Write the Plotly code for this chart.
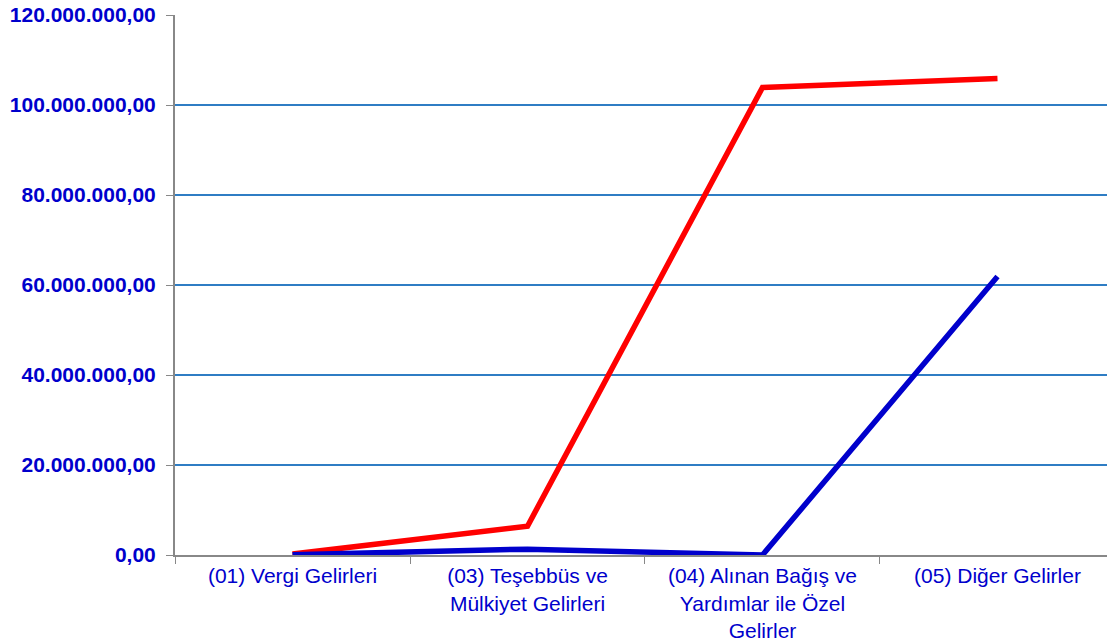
import plotly.graph_objects as go

categories = [
    "(01) Vergi Gelirleri",
    "(03) Teşebbüs ve<br>Mülkiyet Gelirleri",
    "(04) Alınan Bağış ve<br>Yardımlar ile Özel<br>Gelirler",
    "(05) Diğer Gelirler",
]
red_values = [200000, 6400000, 103900000, 105900000]
blue_values = [50000, 1300000, 0, 61900000]
y_ticks = [0, 20000000, 40000000, 60000000, 80000000, 100000000, 120000000]

fig = go.Figure()
fig.add_trace(go.Scatter(x=categories, y=red_values, mode="lines",
                         line=dict(color="#FF0000", width=5.5), name="A"))
fig.add_trace(go.Scatter(x=categories, y=blue_values, mode="lines",
                         line=dict(color="#0000CC", width=5.5), name="B"))

fig.update_layout(
    width=1107, height=642,
    margin=dict(l=175, r=0, t=15, b=87),
    plot_bgcolor="white", paper_bgcolor="white",
    showlegend=False,
    separators=",.",
    font=dict(family="Liberation Sans, Arial, sans-serif"),
)
fig.update_xaxes(
    type="category",
    range=[-0.5, 3.466],
    tickson="boundaries",
    ticks="outside", ticklen=7, tickcolor="#888888",
    showline=True, linecolor="#888888", linewidth=2,
    showgrid=False,
    automargin=False,
    tickfont=dict(size=21, color="#0000CC"),
    ticklabelstandoff=1,
)
fig.update_yaxes(
    range=[0, 120000000],
    tickvals=y_ticks,
    tickformat=",.2f",
    ticks="outside", ticklen=7, tickcolor="#888888",
    showline=True, linecolor="#888888", linewidth=2,
    showgrid=True, gridcolor="#2F7DC4", gridwidth=1.5,
    zeroline=False,
    automargin=False,
    tickfont=dict(size=21, color="#0000CC", family="Liberation Sans, Arial, sans-serif", weight="bold"),
    ticklabelstandoff=6,
)
fig.write_html("out.html", config={"displayModeBar": False},
               post_script="document.body.style.margin='0';")
